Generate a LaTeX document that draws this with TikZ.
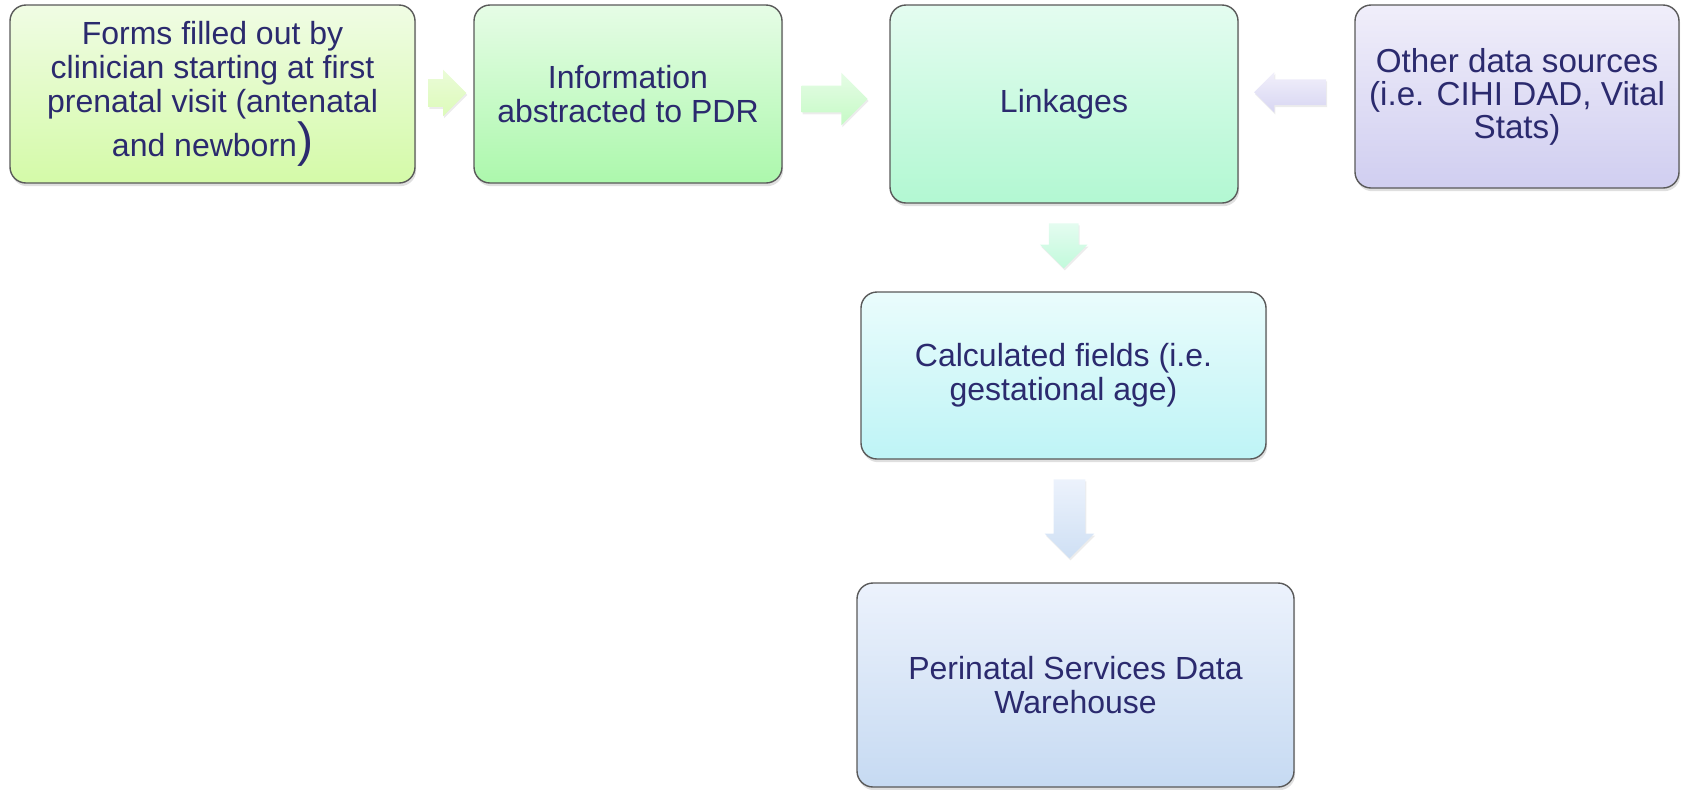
\documentclass[tikz,border=0pt]{standalone}
\usepackage{fontspec}
\setmainfont{Liberation Sans}
\usepackage{tikz}
\usetikzlibrary{shapes.arrows,shadows,calc}

\definecolor{txtnavy}{RGB}{43,42,110}
\definecolor{formstop}{RGB}{240,252,228}
\definecolor{formsbot}{RGB}{212,250,168}
\definecolor{pdrtop}{RGB}{230,252,230}
\definecolor{pdrbot}{RGB}{172,248,172}
\definecolor{linktop}{RGB}{228,252,240}
\definecolor{linkbot}{RGB}{178,248,210}
\definecolor{othertop}{RGB}{240,238,250}
\definecolor{otherbot}{RGB}{208,206,240}
\definecolor{calctop}{RGB}{234,252,252}
\definecolor{calcbot}{RGB}{190,244,246}
\definecolor{dwtop}{RGB}{236,242,252}
\definecolor{dwbot}{RGB}{198,218,242}

\begin{document}
\begin{tikzpicture}[x=0.5pt,y=-0.5pt,
		box/.style={rounded corners=8pt,draw=black!65,line width=0.7pt,align=center,text=txtnavy,
			font=\fontsize{16}{17}\selectfont,
			drop shadow={shadow xshift=0.6pt,shadow yshift=-1.6pt,opacity=0.25}},
		blockarrow/.style={single arrow,draw=none,
			drop shadow={shadow xshift=0.5pt,shadow yshift=-1pt,opacity=0.15}}]
	\useasboundingbox (0,0) rectangle (1681,789);

	\node[box,top color=formstop,bottom color=formsbot,minimum width=202.5pt,minimum height=89pt] (forms) at (212.5,94)
		{Forms filled out by\\clinician starting at first\\prenatal visit (antenatal\\and newborn{\fontsize{24}{24}\selectfont)}};
	\node[box,top color=pdrtop,bottom color=pdrbot,minimum width=154pt,minimum height=89pt] (pdr) at (628,94)
		{Information\\abstracted to PDR};
	\node[box,top color=linktop,bottom color=linkbot,minimum width=174pt,minimum height=99pt] (link) at (1064,104)
		{Linkages};
	\node[box,top color=othertop,bottom color=otherbot,minimum width=162pt,minimum height=91.5pt,
		font=\fontsize{16.6}{16.5}\selectfont] (other) at (1517,96.5)
		{Other data sources\\(i.e. CIHI DAD, Vital\\Stats)};
	\node[box,top color=calctop,bottom color=calcbot,minimum width=202.5pt,minimum height=83.5pt] (calc) at (1063.5,375.5)
		{Calculated fields (i.e.\\gestational age)};
	\node[box,top color=dwtop,bottom color=dwbot,minimum width=218.5pt,minimum height=102pt] (dw) at (1075.5,685)
		{Perinatal Services Data\\Warehouse};

	% arrows between the boxes
	\node[blockarrow,top color=formstop!80!formsbot,bottom color=formsbot!80!white,inner xsep=0pt,inner ysep=6.75pt,
		minimum height=19pt,minimum width=23pt,single arrow head extend=4.75pt] (a1)
		at ($(forms.east)!0.5!(pdr.west)+(-4,-1)$) {};
	\node[blockarrow,top color=pdrtop,bottom color=pdrbot!70!white,inner xsep=0pt,inner ysep=6.5pt,
		minimum height=33pt,minimum width=26pt,single arrow head extend=6.5pt] (a2)
		at ($(pdr.east)!0.5!(link.west)+(-8,0)$) {};
	\node[blockarrow,top color=othertop!90!white,bottom color=otherbot!85!white,shape border rotate=180,inner xsep=0pt,inner ysep=6.25pt,
		minimum height=36pt,minimum width=20pt,single arrow head extend=3.75pt] (a3)
		at ($(link.east)!0.5!(other.west)+(0,-8)$) {};
	\node[blockarrow,top color=linktop,bottom color=linkbot!80!white,shape border rotate=270,inner ysep=0pt,inner xsep=7.25pt,
		minimum height=22.5pt,minimum width=23.5pt,single arrow head extend=4.5pt] (a4)
		at ($(link.south)!0.5!(calc.north)+(0,-9)$) {};
	\node[blockarrow,top color=dwtop,bottom color=dwbot!85!white,shape border rotate=270,inner ysep=0pt,inner xsep=7.75pt,
		minimum height=39.5pt,minimum width=24.5pt,single arrow head extend=4.5pt] (a5)
		at ($(calc.south)!0.5!(dw.north)+(0,-10)$) {};
\end{tikzpicture}
\end{document}
